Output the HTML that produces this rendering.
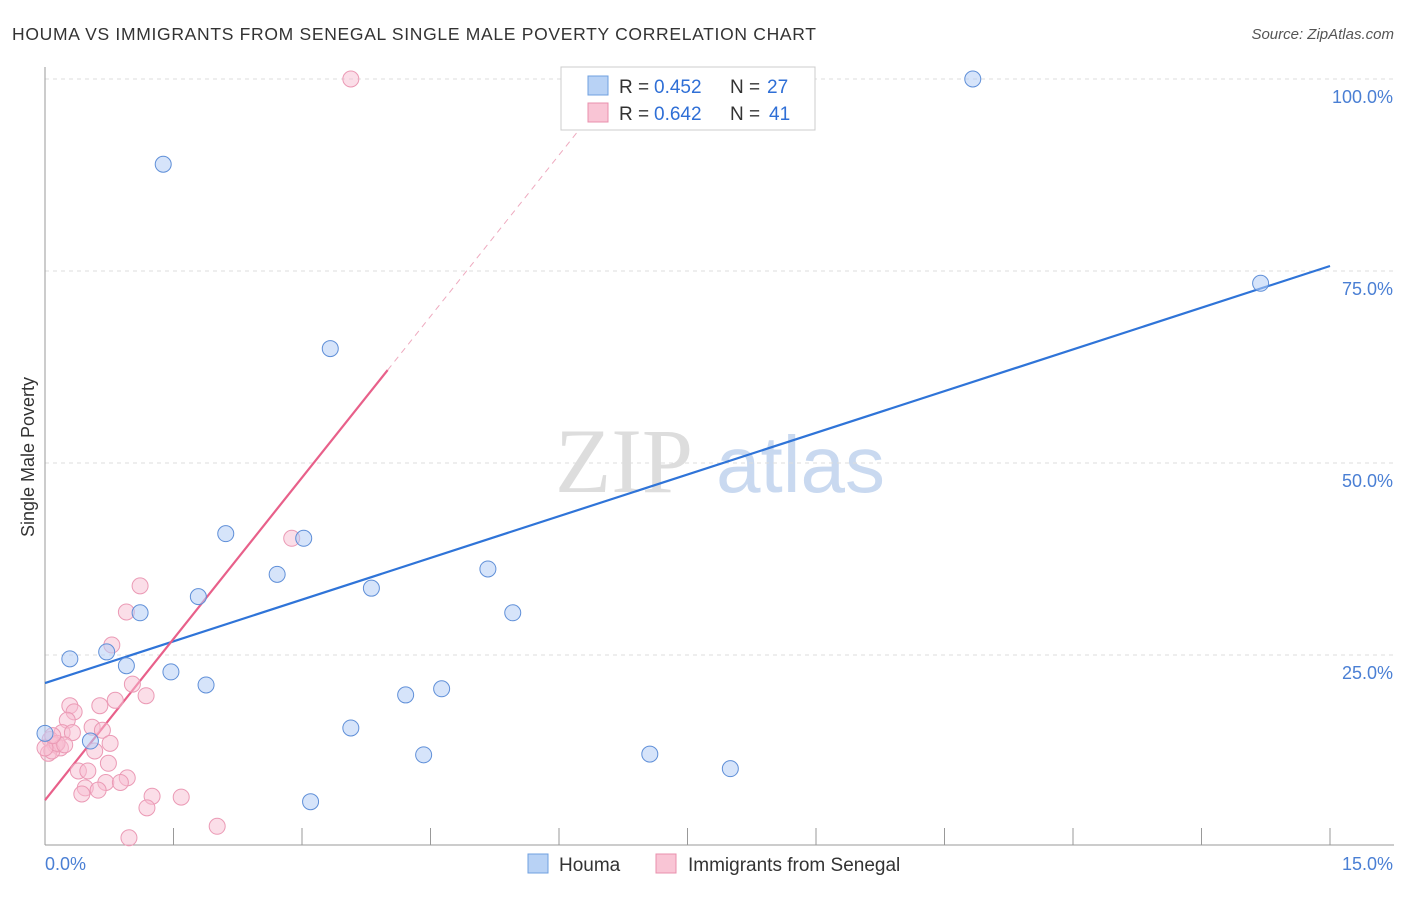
<!DOCTYPE html>
<html><head><meta charset="utf-8"><style>
body{margin:0;background:#fff;font-family:"Liberation Sans",sans-serif}
</style></head><body>
<svg id="chart" width="1406" height="892" xmlns="http://www.w3.org/2000/svg" font-family="Liberation Sans, sans-serif">
<text x="12" y="40" font-size="17.5" fill="#333" textLength="804">HOUMA VS IMMIGRANTS FROM SENEGAL SINGLE MALE POVERTY CORRELATION CHART</text>
<text x="1394" y="39" font-size="15" fill="#555" font-style="italic" text-anchor="end">Source: ZipAtlas.com</text>
<text x="34" y="457" font-size="18" fill="#333" text-anchor="middle" transform="rotate(-90 34 457)">Single Male Poverty</text>
<g><text x="555" y="492" font-size="92" fill="#ddd" font-family="Liberation Serif, serif">ZIP</text><text x="716" y="492" font-size="80" fill="#c9d9f0">atlas</text></g>
<g id="grid"></g><g id="axes"></g><g id="lines"></g><g id="pts"></g>
<g>
<rect x="561" y="67" width="254" height="63" fill="#fff" stroke="#ccc"/>
<rect x="588" y="76" width="20" height="19" fill="#b8d2f5" stroke="#6fa0e0"/>
<rect x="588" y="103" width="20" height="19" fill="#f9c5d5" stroke="#e990ad"/>
<text y="93" font-size="19" fill="#333"><tspan x="619">R =</tspan><tspan x="654" fill="#2f6fd6">0.452</tspan><tspan x="730">N =</tspan><tspan x="767" fill="#2f6fd6">27</tspan></text>
<text y="120" font-size="19" fill="#333"><tspan x="619">R =</tspan><tspan x="654" fill="#2f6fd6">0.642</tspan><tspan x="730">N =</tspan><tspan x="769" fill="#2f6fd6">41</tspan></text>
</g>
<g>
<rect x="528" y="854" width="20" height="19" fill="#b8d2f5" stroke="#6fa0e0"/>
<text x="559" y="871" font-size="19" fill="#333">Houma</text>
<rect x="656" y="854" width="20" height="19" fill="#f9c5d5" stroke="#e990ad"/>
<text x="688" y="871" font-size="19" fill="#333">Immigrants from Senegal</text>
</g>
</svg>
<script>
const blueX=[7.33,10.83,1.38,3.33,2.11,3.02,2.71,1.79,1.11,3.81,5.17,5.46,0.29,0.72,0.95,1.47,1.88,4.21,4.63,3.57,0.53,0,4.42,3.10,7.06,8.0,14.19];
const blueY=[100,100,88.9,64.9,40.8,40.2,35.5,32.6,30.5,33.7,36.2,30.5,24.5,25.4,23.6,22.8,21.1,19.8,20.6,15.5,13.8,14.8,12.0,5.9,12.1,10.2,73.4];
const pinkX=[3.57,2.88,1.11,0.95,0.78,0.82,1.18,1.02,0.29,0.64,0.34,0.26,0.55,0.67,0.2,0.32,0.06,0.12,0.18,0.04,0.08,0.58,0.76,0.74,0.39,0.5,0.96,0.71,0.88,0.47,0.62,0.43,1.25,1.59,1.19,2.01,0.98,0.14,0.23,0,0.09];
const pinkY=[100,40.2,34.0,30.6,26.3,19.1,19.7,21.2,18.4,18.4,17.6,16.5,15.6,15.2,14.9,14.9,14.0,13.3,12.9,12.2,12.5,12.5,13.5,10.9,9.9,9.9,9.0,8.4,8.4,7.7,7.4,6.9,6.6,6.5,5.1,2.7,1.2,13.5,13.3,12.9,14.5];
const xTicks=[0,1.5,3,4.5,6,7.5,9,10.5,12,13.5,15];
const yTicks=[25,50,75,100];
const yTickLabels=["25.0%","50.0%","75.0%","100.0%"];
const blueFit=[21.35,3.62];
const pinkFit=[6.1,14.0];
const X=v=>45+v*(1285/15), Y=v=>847-v*7.68;
const ns="http://www.w3.org/2000/svg";
function mk(p,t,a){const e=document.createElementNS(ns,t);for(const k in a)e.setAttribute(k,a[k]);document.getElementById(p).appendChild(e);return e;}
yTicks.forEach((t,i)=>{
 const l=mk('grid','line',{x1:45,x2:1394,y1:Y(t),y2:Y(t),stroke:'#ddd','stroke-dasharray':'4,4'});
 
 
 const tx=mk('axes','text',{x:1393,y:Y(t)+24,'font-size':18,fill:'#4a7fd4','text-anchor':'end'});
 tx.textContent=yTickLabels[i];
 
 
});
const ax=mk('axes','line',{x1:45,x2:45,y1:67,y2:845,stroke:'#999'});


const bx=mk('axes','line',{x1:45,x2:1394,y1:845,y2:845,stroke:'#999'});


xTicks.forEach(t=>{const l=mk('axes','line',{x1:X(t),x2:X(t),y1:828,y2:845,stroke:'#999'});
 
 });
const x0=mk('axes','text',{x:45,y:870,'font-size':18,fill:'#4a7fd4'});x0.textContent='0.0%';


const x1=mk('axes','text',{x:1393,y:870,'font-size':18,fill:'#4a7fd4','text-anchor':'end'});x1.textContent='15.0%';


const bl=mk('lines','line',{x1:X(0),y1:Y(blueFit[0]),x2:X(15),y2:Y(blueFit[0]+15*blueFit[1]),stroke:'#2f74d8','stroke-width':2.2});


const pe=4.0, pend=(100-pinkFit[0])/pinkFit[1];
const pl=mk('lines','line',{x1:X(0),y1:Y(pinkFit[0]),x2:X(pe),y2:Y(pinkFit[0]+pe*pinkFit[1]),stroke:'#e8608a','stroke-width':2.2});


const pd=mk('lines','line',{x1:X(pe),y1:Y(pinkFit[0]+pe*pinkFit[1]),x2:X(pend),y2:Y(100),stroke:'#eeaabf','stroke-width':1,'stroke-dasharray':'6,5'});


pinkX.forEach((v,i)=>{const c=mk('pts','circle',{cx:X(v),cy:Y(pinkY[i]),r:8,fill:'rgba(248,190,210,0.5)',stroke:'#eb9ab5','stroke-width':1});
 
 });
blueX.forEach((v,i)=>{const c=mk('pts','circle',{cx:X(v),cy:Y(blueY[i]),r:8,fill:'rgba(180,206,245,0.55)',stroke:'#5f8fd8','stroke-width':1});
 
 });
</script>
</body></html>
